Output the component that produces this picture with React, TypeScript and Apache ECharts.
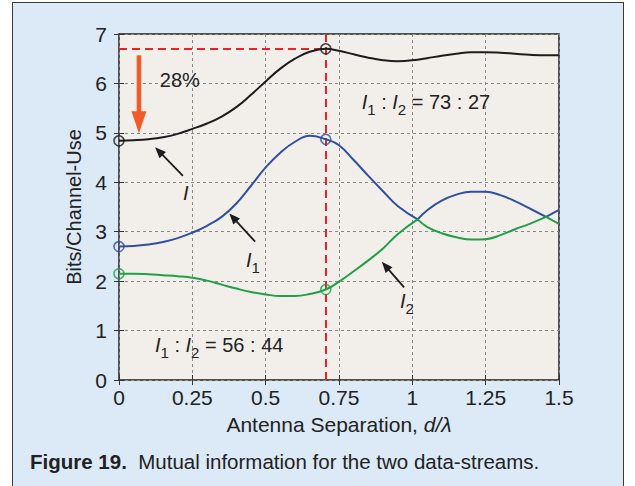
import React, { useEffect, useRef } from "react";
import * as echarts from "echarts";

// Antenna separation d/λ (shared sample positions)
const xValues = [0, 0.05, 0.1, 0.15, 0.2, 0.25, 0.3, 0.35, 0.4, 0.45, 0.5, 0.55, 0.6, 0.65, 0.705, 0.75, 0.8, 0.85, 0.9, 0.95, 1.018, 1.05, 1.1, 1.15, 1.2, 1.25, 1.3, 1.35, 1.4, 1.456, 1.5];
// I (total mutual information)
const iTotal = [4.84, 4.85, 4.87, 4.91, 4.98, 5.08, 5.19, 5.33, 5.52, 5.77, 6.04, 6.3, 6.5, 6.64, 6.7, 6.66, 6.59, 6.52, 6.47, 6.45, 6.48, 6.51, 6.56, 6.6, 6.63, 6.63, 6.62, 6.6, 6.58, 6.57, 6.57];
// I1 (stream 1)
const iOne = [2.7, 2.71, 2.74, 2.79, 2.87, 2.98, 3.12, 3.3, 3.57, 3.93, 4.3, 4.6, 4.82, 4.94, 4.87, 4.75, 4.45, 4.13, 3.82, 3.52, 3.25, 3.43, 3.63, 3.75, 3.81, 3.81, 3.74, 3.62, 3.47, 3.3, 3.44];
// I2 (stream 2)
const iTwo = [2.15, 2.15, 2.14, 2.12, 2.1, 2.07, 2.01, 1.93, 1.85, 1.78, 1.73, 1.7, 1.7, 1.74, 1.83, 1.99, 2.2, 2.42, 2.66, 2.95, 3.25, 3.1, 2.97, 2.89, 2.84, 2.85, 2.93, 3.05, 3.16, 3.3, 3.16];
// separations where I1 and I2 meet (sharp corners)
const crossX = [1.018, 1.456];
// marked separations (hollow circles)
const markedX = [0, 0.705];

const FONT = "'Liberation Sans', Arial, Helvetica, sans-serif";
const INK = "#222";
const BLACK = "#1c1c1c";
const BLUE = "#2f4f9f";
const GREEN = "#1fa047";
const RED = "#e8232b";
const ORANGE = "#f15a29";

export default function App() {
  const ref = useRef<HTMLDivElement>(null);
  useEffect(() => {
    const chart = echarts.init(ref.current!, null, { renderer: "svg" });
    // split at crossing points so each piece is smoothed separately (sharp corners)
    const pairs = (ys: number[], kinks: number[]) => {
      const out: any[] = [];
      xValues.forEach((x, i) => {
        out.push([x, ys[i]]);
        if (kinks.includes(x) && i < xValues.length - 1) {
          out.push([x, "-"]);
          out.push([x, ys[i]]);
        }
      });
      return out;
    };
    const marks = (ys: number[]) => markedX.map((mx) => [mx, ys[xValues.indexOf(mx)]]);
    const peakX = markedX[1];
    const peakY = iTotal[xValues.indexOf(peakX)];

    const lineSeries = (name: string, ys: number[], color: string, kinks: number[], extra: any = {}) => ({
      name,
      type: "line",
      data: pairs(ys, kinks),
      smooth: 0.45,
      connectNulls: false,
      showSymbol: false,
      symbol: "none",
      lineStyle: { color, width: 2 },
      z: 3,
      ...extra,
    });
    const markerSeries = (ys: number[], color: string) => ({
      type: "scatter",
      data: marks(ys),
      symbol: "circle",
      symbolSize: 10,
      itemStyle: { color: "rgba(0,0,0,0)", borderColor: color, borderWidth: 1.6 },
      z: 6,
    });

    const axisCommon = {
      type: "value",
      axisLine: { show: false },
      axisTick: { inside: true, length: 5, lineStyle: { color: "#333", width: 1 } },
    };

    chart.setOption({
      animation: false,
      backgroundColor: "transparent",
      textStyle: { fontFamily: FONT },
      grid: {
        left: 119, right: 76, top: 34, bottom: 106,
        show: true, backgroundColor: "#f2efea", borderColor: "#1e1e1e", borderWidth: 1.5,
      },
      xAxis: [
        {
          ...axisCommon,
          min: 0, max: 1.5, interval: 0.25,
          axisLabel: { fontSize: 21, color: INK, margin: 7, fontFamily: FONT, formatter: (v: number) => String(v) },
          splitLine: { show: true, lineStyle: { color: "#888", type: [3, 3], width: 1 } },
          name: "{n|Antenna Separation, }{i|d/λ}",
          nameLocation: "middle",
          nameGap: 34,
          nameTextStyle: {
            rich: {
              n: { fontSize: 21, color: INK, fontFamily: FONT },
              i: { fontSize: 21, color: INK, fontFamily: FONT, fontStyle: "italic" },
            },
          },
        },
        {
          ...axisCommon, position: "top",
          min: 0, max: 1.5, interval: 0.25,
          axisLabel: { show: false }, splitLine: { show: false },
        },
      ],
      yAxis: [
        {
          ...axisCommon,
          min: 0, max: 7, interval: 1,
          axisLabel: { fontSize: 21, color: INK, margin: 12, fontFamily: FONT },
          splitLine: { show: true, lineStyle: { color: "#888", type: [3, 3], width: 1 } },
          name: "Bits/Channel-Use",
          nameLocation: "middle",
          nameGap: 33,
          nameTextStyle: { fontSize: 20, color: INK, fontFamily: FONT },
        },
        {
          ...axisCommon, position: "right",
          min: 0, max: 7, interval: 1,
          axisLabel: { show: false }, splitLine: { show: false },
        },
      ],
      series: [
        lineSeries("I", iTotal, BLACK, [], {
          markLine: {
            silent: true,
            symbol: ["none", "none"],
            label: { show: false },
            lineStyle: { color: RED, type: [8, 5], width: 2 },
            data: [
              [{ coord: [0, peakY] }, { coord: [peakX, peakY] }],
              [{ coord: [peakX, 0] }, { coord: [peakX, 7] }],
            ],
            z: 2,
          },
        }),
        lineSeries("I1", iOne, BLUE, crossX),
        lineSeries("I2", iTwo, GREEN, crossX),
        markerSeries(iTotal, BLACK),
        markerSeries(iOne, BLUE),
        markerSeries(iTwo, GREEN),
      ],
    });

    const P = (x: number, y: number) => chart.convertToPixel({ seriesIndex: 0 }, [x, y]) as number[];

    const arrow = (tail: number[], tip: number[], color: string, width: number, headLen: number, headHalf: number) => {
      const a = P(tail[0], tail[1]);
      const b = P(tip[0], tip[1]);
      const dx = b[0] - a[0], dy = b[1] - a[1];
      const len = Math.hypot(dx, dy);
      const ux = dx / len, uy = dy / len;
      const bx = b[0] - ux * headLen, by = b[1] - uy * headLen;
      return [
        { type: "line", shape: { x1: a[0], y1: a[1], x2: bx + ux * 1, y2: by + uy * 1 }, style: { stroke: color, lineWidth: width }, z: 20 },
        {
          type: "polygon",
          shape: { points: [[b[0], b[1]], [bx - uy * headHalf, by + ux * headHalf], [bx + uy * headHalf, by - ux * headHalf]] },
          style: { fill: color }, z: 20,
        },
      ];
    };

    const richStyle = {
      it: { fontSize: 20, fontStyle: "italic", fontFamily: FONT, fill: INK, color: INK, lineHeight: 22 },
      n: { fontSize: 20, fontFamily: FONT, fill: INK, color: INK, lineHeight: 22 },
      sub: { fontSize: 15, fontFamily: FONT, fill: INK, color: INK, lineHeight: 15, padding: [15, 0, 0, 0] },
    };
    const label = (x: number, y: number, text: string) => {
      const p = P(x, y);
      return {
        type: "text", x: p[0], y: p[1], z: 25,
        style: { text, rich: richStyle, align: "left", verticalAlign: "middle", fill: INK, font: `20px ${FONT}` },
      };
    };

    const graphics: any[] = [
      ...arrow([0.068, 6.57], [0.068, 4.99], ORANGE, 4.5, 22, 7.5),
      ...arrow([0.218, 4.13], [0.123, 4.71], BLACK, 1.8, 11, 4.5),
      ...arrow([0.464, 2.8], [0.376, 3.37], BLACK, 1.8, 11, 4.5),
      ...arrow([0.972, 1.875], [0.896, 2.39], BLACK, 1.8, 11, 4.5),
      label(0.139, 6.07, "{n|28%}"),
      label(0.218, 3.79, "{it|I}"),
      label(0.433, 2.43, "{it|I}{sub|1}"),
      label(0.958, 1.59, "{it|I}{sub|2}"),
      label(0.8275, 5.63, "{it|I}{sub|1}{n| : }{it|I}{sub|2}{n| = 73 : 27}"),
      label(0.1227, 0.708, "{it|I}{sub|1}{n| : }{it|I}{sub|2}{n| = 56 : 44}"),
      {
        type: "text", left: 30, top: 451, z: 25,
        style: {
          text: "{b|Figure 19.}{n|  Mutual information for the two data-streams.}",
          rich: {
            b: { fontSize: 20.5, fontWeight: "bold", fontFamily: FONT, fill: INK, color: INK },
            n: { fontSize: 20.5, fontFamily: FONT, fill: INK, color: INK },
          },
          fill: INK,
          font: `20.5px ${FONT}`,
        },
      },
    ];
    chart.setOption({ graphic: graphics });

    return () => chart.dispose();
  }, []);

  return (
    <div style={{ position: "fixed", left: 0, top: 0, width: 635, height: 486, background: "#ffffff", overflow: "hidden" }}>
      <div style={{ position: "absolute", left: 12, top: 2, width: 610, height: 500, background: "#dce9f6", border: "1px solid #3a3a3a" }} />
      <div ref={ref} style={{ position: "absolute", left: 0, top: 0, width: 635, height: 486 }} />
    </div>
  );
}
